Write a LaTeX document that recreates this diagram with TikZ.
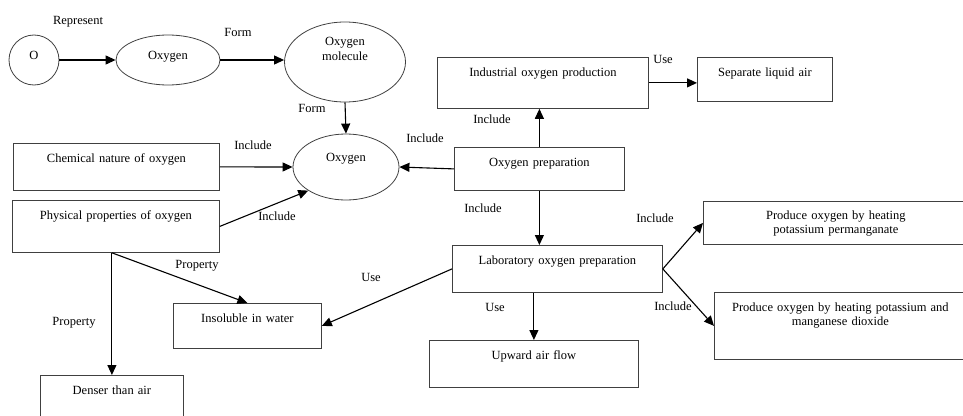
\documentclass[tikz,border=0pt]{standalone}
\usepackage{fontspec}
\setmainfont{Liberation Serif}
\usetikzlibrary{shapes.geometric,arrows.meta}

\begin{document}
\begin{tikzpicture}[x=1pt,y=-1pt,
    font=\fontsize{12.5}{14.5}\selectfont,
    box/.style={draw=black!75,line width=0.8pt,anchor=north west,
      inner sep=0pt,align=center,text height=19pt},
    oval/.style={draw=black!75,line width=0.8pt,ellipse,inner sep=0pt,
      align=center,text height=9pt},
    link/.style={-{Triangle[length=10pt,width=9pt]},line width=1.1pt},
    tag/.style={inner sep=1pt}]

  \useasboundingbox (0,0) rectangle (963,415);

  \node (oAtom) [oval,circle,minimum size=50pt,text depth=11pt] at (34,60) {O};
  \node (oxyElement) [oval,minimum width=104pt,minimum height=50pt,
                      text depth=11pt] at (168,60) {Oxygen};
  \node (oxyMolecule) [oval,minimum width=121pt,minimum height=80pt,
                       text width=50pt,text depth=42pt] at (345,62)
        {Oxygen\\ molecule};
  \node (oxygen) [oval,minimum width=106pt,minimum height=66pt,
                  text depth=21pt] at (346,167) {Oxygen};

  \node (chemNature) [box,text width=206pt,text depth=28pt] at (13,143)
        {Chemical nature of oxygen};
  \node (physProps) [box,text width=207pt,text depth=33pt] at (12,200)
        {Physical properties of oxygen};
  \node (denser) [box,text width=143pt,text depth=50pt] at (40,375)
        {Denser than air};
  \node (insoluble) [box,text width=148pt,text depth=26pt] at (173,303)
        {Insoluble in water};
  \node (induProd) [box,text width=211pt,text depth=32pt] at (437,57)
        {Industrial oxygen production};
  \node (sepAir) [box,text width=135pt,text depth=25pt] at (697,57)
        {Separate liquid air};
  \node (oxyPrep) [box,text width=170pt,text depth=24pt] at (454,147)
        {Oxygen preparation};
  \node (labPrep) [box,text width=210pt,text depth=28pt] at (452,245)
        {Laboratory oxygen preparation};
  \node (upFlow) [box,text width=209pt,text depth=28pt] at (429,340)
        {Upward air flow};
  \node (heatKMnO) [box,text width=265pt,text height=18pt,text depth=25pt]
        at (703,201) {Produce oxygen by heating\\ potassium permanganate};
  \node (heatMnO) [box,text width=252pt,text depth=48pt] at (714,292)
        {Produce oxygen by heating potassium and\\ manganese dioxide};

  \draw [link] (oAtom) -- (oxyElement);
  \draw [link] (oxyElement.east) -- (oxyElement.east -| oxyMolecule.west);
  \draw [link] (oxyMolecule.south) -- (oxygen.north);
  \draw [link] (chemNature.east) -- (oxygen.west);
  \draw [link] (physProps.east) -- (oxygen.south west);
  \draw [link] (oxyPrep.west) -- (oxygen.east);
  \draw [link] (oxyPrep.north) -- (oxyPrep.north |- induProd.south);
  \draw [link] (induProd.east) -- (induProd.east -| sepAir.west);
  \draw [link] (oxyPrep.south) -- (oxyPrep.south |- labPrep.north);
  \draw [link] (upFlow.north |- labPrep.south) -- (upFlow.north);
  \draw [link] (labPrep.west) -- (insoluble.east);
  \draw [link] (labPrep.east) -- (heatKMnO.west);
  \draw [link] (labPrep.east) -- (heatMnO.west);
  \draw [link] (denser.north |- physProps.south) -- (denser.north);
  \draw [link] (denser.north |- physProps.south) -- (insoluble.north);

  \node (tRepresent) [tag] at (78,22) {Represent};
  \node (tForm) [tag] at (238,32) {Form};
  \node (tFormDown) [tag] at (312,108) {Form};
  \node (tIncChem) [tag] at (253,145) {Include};
  \node (tIncPhys) [tag] at (277,216) {Include};
  \node (tIncPrep) [tag] at (425,138) {Include};
  \node (tPropIns) [tag] at (197,266) {Property};
  \node (tPropDen) [tag] at (74,323) {Property};
  \node (tUseIns) [tag] at (371,277) {Use};
  \node (tIncInd) [tag] at (492,119) {Include};
  \node (tUseSep) [tag] at (663,59) {Use};
  \node (tIncLab) [tag] at (483,208) {Include};
  \node (tUseUp) [tag] at (495,307) {Use};
  \node (tIncKMnO) [tag] at (655,218) {Include};
  \node (tIncMnO) [tag] at (673,306) {Include};

\end{tikzpicture}
\end{document}
